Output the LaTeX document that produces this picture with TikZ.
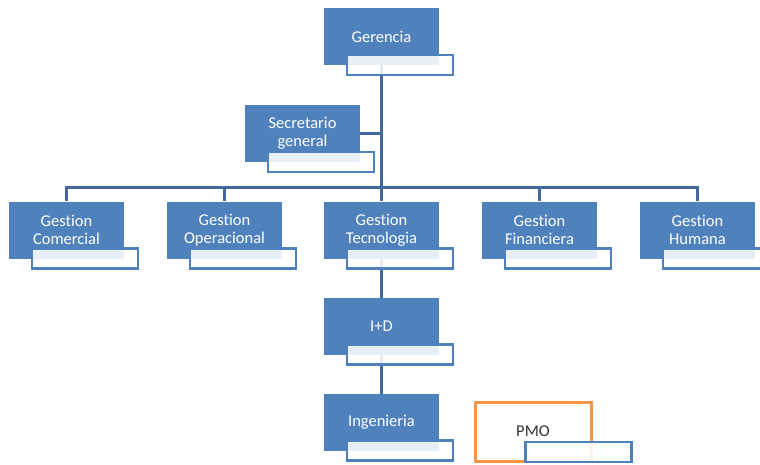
\documentclass[tikz,border=0pt]{standalone}
\usepackage{fontspec}
\setmainfont{Carlito}[Ligatures=NoCommon]
\usetikzlibrary{backgrounds}

\definecolor{boxblue}{HTML}{4F81BD}
\definecolor{linkblue}{HTML}{41699F}
\definecolor{pmoorange}{HTML}{F79646}

\tikzset{
  unit/.style={fill=boxblue, text=white, minimum width=115pt, minimum height=57pt,
    inner sep=0pt, align=center, font=\fontsize{16.5}{18}\selectfont},
  tag/.style={draw=boxblue, line width=2.5pt, fill=white, fill opacity=0.88,
    minimum width=106pt, minimum height=20pt, inner sep=0pt},
  link/.style={draw=linkblue, line width=3pt}
}

% box with its little name tag
\newcommand{\unitbox}[3]{%
  \node[unit] (#1) at (#2) {#3};
  \node[tag, anchor=south east] (#1t) at ([shift={(15,11)}]#1.south east) {};
}

\begin{document}
\begin{tikzpicture}[x=1pt, y=-1pt]
\useasboundingbox (0,0) rectangle (760,464);

%top
\unitbox{ger}{381.5,36.5}{Gerencia}
\unitbox{sec}{302.5,133.5}{Secretario\\general}
%row of areas
\unitbox{com}{66.5,230}{Gestion\\Comercial}
\unitbox{ope}{224.5,230}{Gestion\\Operacional}
\unitbox{tec}{381.5,230}{Gestion\\Tecnologia}
\unitbox{fin}{539.5,230}{Gestion\\Financiera}
\unitbox{hum}{697.5,230}{Gestion\\Humana}
%below tecnologia
\unitbox{imd}{381.5,326}{I+D}
\unitbox{ing}{381.5,422}{Ingenieria}
%pmo
\node[draw=pmoorange, line width=3pt, minimum width=116pt, minimum height=59pt,
  inner sep=0pt, text=black!80, font=\fontsize{16.5}{18}\selectfont] (pmo) at (533,431.5) {PMO};
\node[tag, anchor=south west] (pmot) at (524,463) {};

\coordinate (bus) at (381.5,187);

%connectors
\begin{pgfonlayer}{background}
\draw[link] (ger.center) -- (bus);
\draw[link] (sec.east) -- (sec.east -| bus);
\draw[link] (com.north) |- (bus) -| (hum.north);
\foreach \n in {ope,tec,fin}
  \draw[link] (\n.north |- bus) -- (\n.north);
\draw[link] (tec.center) -- (imd.center);
\draw[link] (imd.center) -- (ing.center);
\end{pgfonlayer}

\end{tikzpicture}
\end{document}
